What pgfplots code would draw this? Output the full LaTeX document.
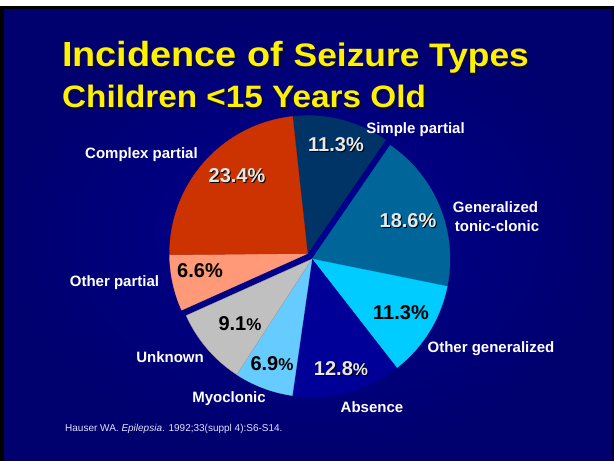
\documentclass[border=0pt]{standalone}
\usepackage{pgfplots}
\pgfplotsset{compat=1.18}
\usepackage{fontspec}
\setmainfont{Liberation Sans}
\definecolor{bgedge}{RGB}{0,0,110}
\definecolor{bgmid}{RGB}{0,0,145}
\definecolor{cSP}{RGB}{0,51,102}
\definecolor{cGTC}{RGB}{0,102,153}
\definecolor{cOG}{RGB}{0,204,255}
\definecolor{cAbs}{RGB}{0,0,153}
\definecolor{cMyo}{RGB}{102,204,255}
\definecolor{cUnk}{RGB}{192,192,192}
\definecolor{cOP}{RGB}{255,153,119}
\definecolor{cCP}{RGB}{204,51,0}
\definecolor{pctgray}{RGB}{232,232,232}
\definecolor{shadow}{RGB}{10,10,40}
\newcommand{\lblfont}{\bfseries\fontsize{15bp}{18bp}\selectfont}
\newcommand{\pctfont}{\bfseries\fontsize{20bp}{24bp}\selectfont}
\newcommand{\spct}{{\fontsize{17bp}{20bp}\selectfont\%}}
\begin{document}
\begin{tikzpicture}
% slice values (percent), clockwise from the top
\def\vSP{11.3}  % Simple partial
\def\vGTC{18.6} % Generalized tonic-clonic
\def\vOG{11.3}  % Other generalized
\def\vAbs{12.8} % Absence
\def\vMyo{6.9}  % Myoclonic
\def\vUnk{9.1}  % Unknown
\def\vOP{6.6}   % Other partial
\def\vCP{23.4}  % Complex partial
\pgfmathsetmacro{\aA}{96.2}
\pgfmathsetmacro{\aB}{\aA-3.6*\vSP}
\pgfmathsetmacro{\aC}{\aB-3.6*\vGTC}
\pgfmathsetmacro{\aD}{\aC-3.6*\vOG}
\pgfmathsetmacro{\aE}{\aD-3.6*\vAbs}
\pgfmathsetmacro{\aF}{\aE-3.6*\vMyo}
\pgfmathsetmacro{\aG}{\aF-3.6*\vUnk}
\pgfmathsetmacro{\aH}{\aG-3.6*\vOP}
\pgfmathsetmacro{\aI}{\aH-3.6*\vCP}
\def\r{138}
\def\cx{312}
\def\cy{202}
% exploded group (partial seizures), pulled out 7 units along its mid angle
\pgfmathsetmacro{\px}{\cx+7*cos(129.86)}
\pgfmathsetmacro{\py}{\cy+7*sin(129.86)}
\begin{axis}[x=1bp,y=1bp,xmin=0,xmax=614,ymin=0,ymax=461,
  hide axis,scale only axis,clip=false]
\shade[inner color=bgmid,outer color=bgedge] (axis cs:0,0) rectangle (axis cs:614,455);
\fill[white] (axis cs:0,455) rectangle (axis cs:614,461);
\fill[black] (axis cs:0,452) rectangle (axis cs:614,455);
\fill[black] (axis cs:0,0) rectangle (axis cs:4,455);
\fill[black!80!blue] (axis cs:612,0) rectangle (axis cs:614,455);
% slices
\addplot[fill=cSP,draw=cSP,line width=0.3pt,domain=\aB:\aA,samples=40,variable=\t]
  ({\px+\r*cos(\t)},{\py+\r*sin(\t)}) -- (axis cs:\px,\py) -- cycle;
\addplot[fill=cGTC,draw=cGTC,line width=0.3pt,domain=\aC:\aB,samples=50,variable=\t]
  ({\cx+\r*cos(\t)},{\cy+\r*sin(\t)}) -- (axis cs:\cx,\cy) -- cycle;
\addplot[fill=cOG,draw=cOG,line width=0.3pt,domain=\aD:\aC,samples=40,variable=\t]
  ({\cx+\r*cos(\t)},{\cy+\r*sin(\t)}) -- (axis cs:\cx,\cy) -- cycle;
\addplot[fill=cAbs,draw=cAbs,line width=0.3pt,domain=\aE:\aD,samples=40,variable=\t]
  ({\cx+\r*cos(\t)},{\cy+\r*sin(\t)}) -- (axis cs:\cx,\cy) -- cycle;
\addplot[fill=cMyo,draw=cMyo,line width=0.3pt,domain=\aF:\aE,samples=30,variable=\t]
  ({\cx+\r*cos(\t)},{\cy+\r*sin(\t)}) -- (axis cs:\cx,\cy) -- cycle;
\addplot[fill=cUnk,draw=cUnk!80!black,line width=0.3pt,domain=\aG:\aF,samples=30,variable=\t]
  ({\cx+\r*cos(\t)},{\cy+\r*sin(\t)}) -- (axis cs:\cx,\cy) -- cycle;
\addplot[fill=cOP,draw=cOP,line width=0.3pt,domain=\aH:\aG,samples=30,variable=\t]
  ({\px+\r*cos(\t)},{\py+\r*sin(\t)}) -- (axis cs:\px,\py) -- cycle;
\addplot[fill=cCP,draw=cCP,line width=0.3pt,domain=\aI:\aH,samples=60,variable=\t]
  ({\px+\r*cos(\t)},{\py+\r*sin(\t)}) -- (axis cs:\px,\py) -- cycle;
% title
\node[anchor=base west,inner sep=0,text=shadow] at (axis cs:63.5,392.5)
  {\bfseries\scalebox{1.01}[0.93]{\fontsize{37.5bp}{40bp}\selectfont Incidence of \fontsize{35bp}{40bp}\selectfont Seizure Types}};
\node[anchor=base west,inner sep=0,text=yellow] at (axis cs:62,394)
  {\bfseries\scalebox{1.01}[0.93]{\fontsize{37.5bp}{40bp}\selectfont Incidence of \fontsize{35bp}{40bp}\selectfont Seizure Types}};
\node[anchor=base west,inner sep=0,text=shadow] at (axis cs:63.5,351.5)
  {\bfseries\scalebox{1}[0.93]{\fontsize{33.3bp}{40bp}\selectfont Children <15 Years Old}};
\node[anchor=base west,inner sep=0,text=yellow] at (axis cs:62,353)
  {\bfseries\scalebox{1}[0.93]{\fontsize{33.3bp}{40bp}\selectfont Children <15 Years Old}};
% outer labels
\node[anchor=base,inner sep=0,text=white,font=\lblfont] at (axis cs:415.5,327) {Simple partial};
\node[anchor=base,inner sep=0,text=white,font=\lblfont] at (axis cs:141.5,302) {Complex partial};
\node[anchor=base,inner sep=0,text=white,font=\lblfont] at (axis cs:495.5,248) {Generalized};
\node[anchor=base,inner sep=0,text=white,font=\lblfont] at (axis cs:497,229) {tonic-clonic};
\node[anchor=base,inner sep=0,text=white,font=\lblfont] at (axis cs:491,108) {Other generalized};
\node[anchor=base,inner sep=0,text=white,font=\lblfont] at (axis cs:372,48) {Absence};
\node[anchor=base,inner sep=0,text=white,font=\lblfont] at (axis cs:229,58) {Myoclonic};
\node[anchor=base,inner sep=0,text=white,font=\lblfont] at (axis cs:170,98) {Unknown};
\node[anchor=base,inner sep=0,text=white,font=\lblfont] at (axis cs:114.5,174) {Other partial};
% percentages (light ones with a shadow)
\node[anchor=base,inner sep=0,text=black,font=\pctfont] at (axis cs:337,308) {11.3\%};
\node[anchor=base,inner sep=0,text=pctgray,font=\pctfont] at (axis cs:336,309) {11.3\%};
\node[anchor=base,inner sep=0,text=black,font=\pctfont] at (axis cs:238,277) {23.4\%};
\node[anchor=base,inner sep=0,text=pctgray,font=\pctfont] at (axis cs:237,278) {23.4\%};
\node[anchor=base,inner sep=0,text=black,font=\pctfont] at (axis cs:409,232) {18.6\%};
\node[anchor=base,inner sep=0,text=pctgray,font=\pctfont] at (axis cs:408,233) {18.6\%};
\node[anchor=base,inner sep=0,text=black,font=\pctfont] at (axis cs:342,84) {12.8\spct};
\node[anchor=base,inner sep=0,text=pctgray,font=\pctfont] at (axis cs:341,85) {12.8\spct};
\node[anchor=base,inner sep=0,text=black,font=\pctfont] at (axis cs:401,141) {11.3\%};
\node[anchor=base,inner sep=0,text=black,font=\pctfont] at (axis cs:272,90) {6.9\spct};
\node[anchor=base,inner sep=0,text=black,font=\pctfont] at (axis cs:240,130) {9.1\spct};
\node[anchor=base,inner sep=0,text=black,font=\pctfont] at (axis cs:200,183) {6.6\%};
% source
\node[anchor=base west,inner sep=0,text=white!88!blue,font=\fontsize{10bp}{12bp}\selectfont] at (axis cs:65,29)
  {Hauser WA. \textit{Epilepsia}. 1992;33(suppl 4):S6-S14.};
\end{axis}
\end{tikzpicture}
\end{document}
